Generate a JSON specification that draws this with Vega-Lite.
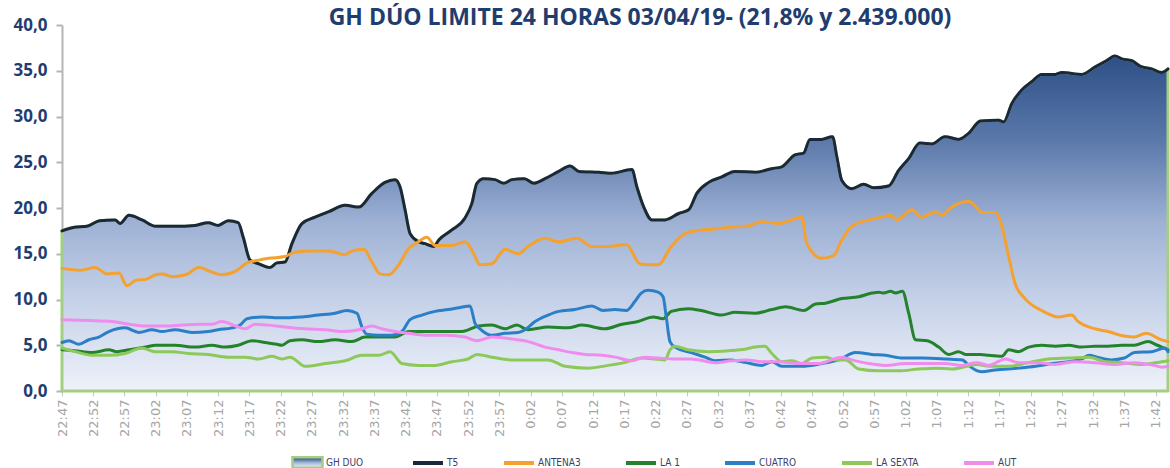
{
"$schema": "https://vega.github.io/schema/vega-lite/v6.json",
"width": 1106, "height": 366,
"autosize": {"type": "none"},
"padding": {"left": 62, "top": 25, "right": 2, "bottom": 77},
"background": "white",
"config": {"view": {"stroke": null}},
"title": {"text": "GH DÚO LIMITE 24 HORAS 03/04/19-  (21,8% y 2.439.000)", "font": "Open Sans", "fontSize": 23, "fontWeight": "bold", "color": "#1f3d6e", "anchor": "middle", "frame": "group", "dx": 25, "baseline": "alphabetic", "offset": -32},
"data": {"values": [
{"c":"T5","m":0,"v":17.5},{"c":"T5","m":2,"v":17.9},{"c":"T5","m":4,"v":18.0},{"c":"T5","m":6,"v":18.6},{"c":"T5","m":8.5,"v":18.7},{"c":"T5","m":9.3,"v":18.3},{"c":"T5","m":10.7,"v":19.2},{"c":"T5","m":12.8,"v":18.7},{"c":"T5","m":15,"v":18.0},{"c":"T5","m":18,"v":18.0},{"c":"T5","m":21.3,"v":18.1},{"c":"T5","m":23.4,"v":18.4},{"c":"T5","m":25,"v":18.1},{"c":"T5","m":26.6,"v":18.6},{"c":"T5","m":28.2,"v":18.4},{"c":"T5","m":29,"v":16.8},{"c":"T5","m":30.1,"v":14.3},{"c":"T5","m":31.5,"v":13.9},{"c":"T5","m":33.3,"v":13.5},{"c":"T5","m":34.4,"v":14.0},{"c":"T5","m":35.7,"v":14.1},{"c":"T5","m":36.8,"v":16.1},{"c":"T5","m":38.4,"v":18.3},{"c":"T5","m":40.5,"v":19.0},{"c":"T5","m":42.7,"v":19.6},{"c":"T5","m":45.3,"v":20.3},{"c":"T5","m":47.5,"v":20.1},{"c":"T5","m":49.6,"v":21.6},{"c":"T5","m":51.7,"v":22.8},{"c":"T5","m":53.3,"v":23.1},{"c":"T5","m":54.1,"v":22.3},{"c":"T5","m":54.9,"v":19.8},{"c":"T5","m":55.7,"v":17.2},{"c":"T5","m":57.1,"v":16.3},{"c":"T5","m":58.1,"v":16.1},{"c":"T5","m":59.5,"v":15.8},{"c":"T5","m":60.3,"v":16.5},{"c":"T5","m":62.4,"v":17.6},{"c":"T5","m":64.5,"v":18.9},{"c":"T5","m":65.6,"v":20.5},{"c":"T5","m":66.4,"v":22.7},{"c":"T5","m":67.5,"v":23.2},{"c":"T5","m":69.3,"v":23.1},{"c":"T5","m":70.7,"v":22.7},{"c":"T5","m":72,"v":23.1},{"c":"T5","m":74,"v":23.2},{"c":"T5","m":75.5,"v":22.7},{"c":"T5","m":77.3,"v":23.2},{"c":"T5","m":79.5,"v":24.0},{"c":"T5","m":81.3,"v":24.6},{"c":"T5","m":82.7,"v":24.0},{"c":"T5","m":85.9,"v":23.9},{"c":"T5","m":88,"v":23.8},{"c":"T5","m":91.2,"v":24.2},{"c":"T5","m":92,"v":22.3},{"c":"T5","m":93.1,"v":20.1},{"c":"T5","m":94.4,"v":18.7},{"c":"T5","m":96.5,"v":18.7},{"c":"T5","m":98.7,"v":19.4},{"c":"T5","m":100.3,"v":19.8},{"c":"T5","m":101.6,"v":21.6},{"c":"T5","m":103.5,"v":22.8},{"c":"T5","m":105.6,"v":23.4},{"c":"T5","m":107.7,"v":24.0},{"c":"T5","m":110.9,"v":23.9},{"c":"T5","m":113.6,"v":24.3},{"c":"T5","m":115.2,"v":24.5},{"c":"T5","m":117.3,"v":25.8},{"c":"T5","m":118.7,"v":26.0},{"c":"T5","m":119.7,"v":27.5},{"c":"T5","m":121.6,"v":27.5},{"c":"T5","m":123.3,"v":27.8},{"c":"T5","m":124,"v":25.6},{"c":"T5","m":124.8,"v":23.0},{"c":"T5","m":126.4,"v":22.1},{"c":"T5","m":128.3,"v":22.6},{"c":"T5","m":129.9,"v":22.2},{"c":"T5","m":132.3,"v":22.4},{"c":"T5","m":133.9,"v":24.1},{"c":"T5","m":135.5,"v":25.4},{"c":"T5","m":137.3,"v":27.1},{"c":"T5","m":139.2,"v":27.0},{"c":"T5","m":141.3,"v":27.8},{"c":"T5","m":143.5,"v":27.5},{"c":"T5","m":145,"v":28.1},{"c":"T5","m":147,"v":29.5},{"c":"T5","m":149.9,"v":29.6},{"c":"T5","m":150.7,"v":29.4},{"c":"T5","m":152,"v":31.4},{"c":"T5","m":153.6,"v":32.9},{"c":"T5","m":155.2,"v":33.8},{"c":"T5","m":156.8,"v":34.6},{"c":"T5","m":159,"v":34.6},{"c":"T5","m":160,"v":34.8},{"c":"T5","m":163.2,"v":34.6},{"c":"T5","m":165.3,"v":35.4},{"c":"T5","m":167.2,"v":36.1},{"c":"T5","m":168.5,"v":36.6},{"c":"T5","m":169.6,"v":36.3},{"c":"T5","m":171.2,"v":36.1},{"c":"T5","m":172.5,"v":35.5},{"c":"T5","m":174.4,"v":35.2},{"c":"T5","m":176,"v":34.8},{"c":"T5","m":177,"v":35.2},
{"c":"ANTENA3","m":0,"v":13.4},{"c":"ANTENA3","m":3,"v":13.2},{"c":"ANTENA3","m":5.3,"v":13.5},{"c":"ANTENA3","m":7.2,"v":12.8},{"c":"ANTENA3","m":9.1,"v":12.9},{"c":"ANTENA3","m":10.4,"v":11.5},{"c":"ANTENA3","m":11.8,"v":12.1},{"c":"ANTENA3","m":13.4,"v":12.2},{"c":"ANTENA3","m":15,"v":12.7},{"c":"ANTENA3","m":16,"v":12.8},{"c":"ANTENA3","m":17.6,"v":12.5},{"c":"ANTENA3","m":19.8,"v":12.7},{"c":"ANTENA3","m":21.9,"v":13.5},{"c":"ANTENA3","m":24,"v":13.0},{"c":"ANTENA3","m":25.6,"v":12.7},{"c":"ANTENA3","m":27.8,"v":13.1},{"c":"ANTENA3","m":29.6,"v":14.0},{"c":"ANTENA3","m":31.5,"v":14.3},{"c":"ANTENA3","m":33.1,"v":14.5},{"c":"ANTENA3","m":35.7,"v":14.7},{"c":"ANTENA3","m":37.3,"v":15.2},{"c":"ANTENA3","m":40,"v":15.3},{"c":"ANTENA3","m":42.7,"v":15.3},{"c":"ANTENA3","m":45.3,"v":14.9},{"c":"ANTENA3","m":46.4,"v":15.3},{"c":"ANTENA3","m":48.3,"v":15.5},{"c":"ANTENA3","m":49.6,"v":14.1},{"c":"ANTENA3","m":50.9,"v":12.8},{"c":"ANTENA3","m":52.3,"v":12.7},{"c":"ANTENA3","m":53.9,"v":13.8},{"c":"ANTENA3","m":55.5,"v":15.6},{"c":"ANTENA3","m":56.8,"v":16.2},{"c":"ANTENA3","m":58.4,"v":16.8},{"c":"ANTENA3","m":59.7,"v":15.9},{"c":"ANTENA3","m":62.4,"v":15.9},{"c":"ANTENA3","m":64.5,"v":16.3},{"c":"ANTENA3","m":65.6,"v":15.4},{"c":"ANTENA3","m":66.9,"v":13.8},{"c":"ANTENA3","m":68.8,"v":13.9},{"c":"ANTENA3","m":70.9,"v":15.5},{"c":"ANTENA3","m":73,"v":15.0},{"c":"ANTENA3","m":74.6,"v":15.8},{"c":"ANTENA3","m":77.3,"v":16.7},{"c":"ANTENA3","m":79.5,"v":16.3},{"c":"ANTENA3","m":82.4,"v":16.7},{"c":"ANTENA3","m":84.8,"v":15.8},{"c":"ANTENA3","m":87.4,"v":15.8},{"c":"ANTENA3","m":90.3,"v":16.0},{"c":"ANTENA3","m":92.5,"v":13.9},{"c":"ANTENA3","m":93.8,"v":13.8},{"c":"ANTENA3","m":95.4,"v":13.8},{"c":"ANTENA3","m":97.5,"v":15.8},{"c":"ANTENA3","m":99.7,"v":17.2},{"c":"ANTENA3","m":102.3,"v":17.6},{"c":"ANTENA3","m":104.5,"v":17.7},{"c":"ANTENA3","m":106.6,"v":17.9},{"c":"ANTENA3","m":109.5,"v":18.0},{"c":"ANTENA3","m":112,"v":18.5},{"c":"ANTENA3","m":114.7,"v":18.3},{"c":"ANTENA3","m":118.4,"v":19.0},{"c":"ANTENA3","m":119.2,"v":16.1},{"c":"ANTENA3","m":121.6,"v":14.5},{"c":"ANTENA3","m":123.5,"v":14.8},{"c":"ANTENA3","m":124.8,"v":16.5},{"c":"ANTENA3","m":126.4,"v":18.0},{"c":"ANTENA3","m":129.1,"v":18.7},{"c":"ANTENA3","m":131.2,"v":19.0},{"c":"ANTENA3","m":132.6,"v":19.2},{"c":"ANTENA3","m":133.6,"v":18.7},{"c":"ANTENA3","m":136,"v":19.8},{"c":"ANTENA3","m":137.6,"v":19.0},{"c":"ANTENA3","m":139.8,"v":19.6},{"c":"ANTENA3","m":140.8,"v":19.2},{"c":"ANTENA3","m":142.4,"v":20.1},{"c":"ANTENA3","m":145.1,"v":20.7},{"c":"ANTENA3","m":146.3,"v":20.1},{"c":"ANTENA3","m":147.2,"v":19.5},{"c":"ANTENA3","m":149.3,"v":19.5},{"c":"ANTENA3","m":150.1,"v":18.7},{"c":"ANTENA3","m":151.5,"v":14.7},{"c":"ANTENA3","m":152.5,"v":11.8},{"c":"ANTENA3","m":154.1,"v":10.1},{"c":"ANTENA3","m":156.8,"v":8.8},{"c":"ANTENA3","m":159.4,"v":8.1},{"c":"ANTENA3","m":161.6,"v":8.3},{"c":"ANTENA3","m":162.6,"v":7.6},{"c":"ANTENA3","m":165.3,"v":6.8},{"c":"ANTENA3","m":167.4,"v":6.5},{"c":"ANTENA3","m":170,"v":6.0},{"c":"ANTENA3","m":171.6,"v":5.9},{"c":"ANTENA3","m":173.5,"v":6.3},{"c":"ANTENA3","m":175.9,"v":5.6},{"c":"ANTENA3","m":177,"v":5.4},
{"c":"LA 1","m":0,"v":4.5},{"c":"LA 1","m":2,"v":4.4},{"c":"LA 1","m":4.8,"v":4.2},{"c":"LA 1","m":7.5,"v":4.5},{"c":"LA 1","m":8.8,"v":4.3},{"c":"LA 1","m":10.7,"v":4.5},{"c":"LA 1","m":13.4,"v":4.8},{"c":"LA 1","m":15,"v":5.0},{"c":"LA 1","m":18,"v":5.0},{"c":"LA 1","m":21.3,"v":4.8},{"c":"LA 1","m":24,"v":5.0},{"c":"LA 1","m":26.1,"v":4.8},{"c":"LA 1","m":28.2,"v":5.0},{"c":"LA 1","m":30.4,"v":5.5},{"c":"LA 1","m":32.5,"v":5.3},{"c":"LA 1","m":34.4,"v":5.1},{"c":"LA 1","m":35.2,"v":5.0},{"c":"LA 1","m":36.5,"v":5.5},{"c":"LA 1","m":38.4,"v":5.6},{"c":"LA 1","m":41,"v":5.4},{"c":"LA 1","m":43.7,"v":5.6},{"c":"LA 1","m":46.4,"v":5.4},{"c":"LA 1","m":48.5,"v":5.9},{"c":"LA 1","m":51.7,"v":5.9},{"c":"LA 1","m":53.3,"v":5.9},{"c":"LA 1","m":55.5,"v":6.5},{"c":"LA 1","m":58.1,"v":6.5},{"c":"LA 1","m":61.3,"v":6.5},{"c":"LA 1","m":64,"v":6.5},{"c":"LA 1","m":66.7,"v":7.1},{"c":"LA 1","m":68.8,"v":7.2},{"c":"LA 1","m":70.9,"v":6.8},{"c":"LA 1","m":72.8,"v":7.2},{"c":"LA 1","m":74.6,"v":6.7},{"c":"LA 1","m":77.8,"v":7.0},{"c":"LA 1","m":81,"v":6.9},{"c":"LA 1","m":83.2,"v":7.2},{"c":"LA 1","m":86.9,"v":6.8},{"c":"LA 1","m":89.6,"v":7.3},{"c":"LA 1","m":92.2,"v":7.6},{"c":"LA 1","m":94.6,"v":8.1},{"c":"LA 1","m":96.2,"v":7.9},{"c":"LA 1","m":97.5,"v":8.7},{"c":"LA 1","m":100.2,"v":9.0},{"c":"LA 1","m":102.3,"v":8.8},{"c":"LA 1","m":105.6,"v":8.3},{"c":"LA 1","m":107.7,"v":8.6},{"c":"LA 1","m":110.9,"v":8.5},{"c":"LA 1","m":113.6,"v":8.9},{"c":"LA 1","m":115.8,"v":9.2},{"c":"LA 1","m":118.7,"v":8.8},{"c":"LA 1","m":120.6,"v":9.5},{"c":"LA 1","m":122.2,"v":9.6},{"c":"LA 1","m":124.8,"v":10.1},{"c":"LA 1","m":127.5,"v":10.3},{"c":"LA 1","m":129.6,"v":10.7},{"c":"LA 1","m":130.7,"v":10.8},{"c":"LA 1","m":131.5,"v":10.7},{"c":"LA 1","m":132.6,"v":10.9},{"c":"LA 1","m":133.4,"v":10.7},{"c":"LA 1","m":134.5,"v":10.9},{"c":"LA 1","m":135.5,"v":8.5},{"c":"LA 1","m":136.6,"v":5.6},{"c":"LA 1","m":138.5,"v":5.5},{"c":"LA 1","m":140.3,"v":4.8},{"c":"LA 1","m":141.9,"v":4.0},{"c":"LA 1","m":143.5,"v":4.3},{"c":"LA 1","m":144.6,"v":4.0},{"c":"LA 1","m":147,"v":4.0},{"c":"LA 1","m":148.3,"v":3.9},{"c":"LA 1","m":150.4,"v":3.8},{"c":"LA 1","m":151.5,"v":4.5},{"c":"LA 1","m":153.1,"v":4.3},{"c":"LA 1","m":154.7,"v":4.8},{"c":"LA 1","m":156.8,"v":5.0},{"c":"LA 1","m":159,"v":4.9},{"c":"LA 1","m":161.1,"v":5.0},{"c":"LA 1","m":163.2,"v":4.8},{"c":"LA 1","m":165.3,"v":4.9},{"c":"LA 1","m":167.4,"v":4.9},{"c":"LA 1","m":169.6,"v":5.0},{"c":"LA 1","m":171.6,"v":5.0},{"c":"LA 1","m":173.8,"v":5.4},{"c":"LA 1","m":175.3,"v":5.0},{"c":"LA 1","m":177,"v":4.5},
{"c":"CUATRO","m":0,"v":5.3},{"c":"CUATRO","m":1.1,"v":5.5},{"c":"CUATRO","m":2.7,"v":5.1},{"c":"CUATRO","m":4.3,"v":5.6},{"c":"CUATRO","m":5.9,"v":5.9},{"c":"CUATRO","m":7.5,"v":6.5},{"c":"CUATRO","m":10.1,"v":6.9},{"c":"CUATRO","m":12.3,"v":6.4},{"c":"CUATRO","m":14.4,"v":6.7},{"c":"CUATRO","m":16,"v":6.5},{"c":"CUATRO","m":18.1,"v":6.7},{"c":"CUATRO","m":20.8,"v":6.4},{"c":"CUATRO","m":23.4,"v":6.5},{"c":"CUATRO","m":25,"v":6.7},{"c":"CUATRO","m":27.2,"v":6.9},{"c":"CUATRO","m":28.5,"v":7.2},{"c":"CUATRO","m":29.6,"v":7.9},{"c":"CUATRO","m":32,"v":8.1},{"c":"CUATRO","m":34.1,"v":8.0},{"c":"CUATRO","m":36,"v":8.0},{"c":"CUATRO","m":38.4,"v":8.1},{"c":"CUATRO","m":41,"v":8.3},{"c":"CUATRO","m":43.7,"v":8.5},{"c":"CUATRO","m":45.6,"v":8.8},{"c":"CUATRO","m":47.2,"v":8.5},{"c":"CUATRO","m":48,"v":7.0},{"c":"CUATRO","m":48.8,"v":6.2},{"c":"CUATRO","m":50.7,"v":6.1},{"c":"CUATRO","m":52.8,"v":6.1},{"c":"CUATRO","m":54.4,"v":6.5},{"c":"CUATRO","m":55.7,"v":7.8},{"c":"CUATRO","m":57.6,"v":8.3},{"c":"CUATRO","m":59.7,"v":8.7},{"c":"CUATRO","m":61.8,"v":8.9},{"c":"CUATRO","m":63.5,"v":9.1},{"c":"CUATRO","m":65.3,"v":9.3},{"c":"CUATRO","m":66.1,"v":7.4},{"c":"CUATRO","m":66.9,"v":6.8},{"c":"CUATRO","m":68.8,"v":6.1},{"c":"CUATRO","m":70.9,"v":6.3},{"c":"CUATRO","m":73,"v":6.4},{"c":"CUATRO","m":74.1,"v":6.7},{"c":"CUATRO","m":75.7,"v":7.6},{"c":"CUATRO","m":77.8,"v":8.3},{"c":"CUATRO","m":79.5,"v":8.7},{"c":"CUATRO","m":82.1,"v":8.9},{"c":"CUATRO","m":84.8,"v":9.3},{"c":"CUATRO","m":86.6,"v":8.8},{"c":"CUATRO","m":88.5,"v":8.9},{"c":"CUATRO","m":90.3,"v":8.8},{"c":"CUATRO","m":91.7,"v":9.8},{"c":"CUATRO","m":92.7,"v":10.7},{"c":"CUATRO","m":93.8,"v":11.0},{"c":"CUATRO","m":95.4,"v":10.8},{"c":"CUATRO","m":96.2,"v":10.3},{"c":"CUATRO","m":96.7,"v":8.1},{"c":"CUATRO","m":97.3,"v":5.4},{"c":"CUATRO","m":98.1,"v":4.8},{"c":"CUATRO","m":100.7,"v":4.2},{"c":"CUATRO","m":102.9,"v":3.7},{"c":"CUATRO","m":104.5,"v":3.3},{"c":"CUATRO","m":107.1,"v":3.4},{"c":"CUATRO","m":109.5,"v":3.1},{"c":"CUATRO","m":112,"v":2.8},{"c":"CUATRO","m":113.6,"v":3.2},{"c":"CUATRO","m":115.2,"v":2.7},{"c":"CUATRO","m":118.4,"v":2.7},{"c":"CUATRO","m":121.6,"v":3.0},{"c":"CUATRO","m":124.3,"v":3.4},{"c":"CUATRO","m":127,"v":4.2},{"c":"CUATRO","m":129.6,"v":4.0},{"c":"CUATRO","m":131.8,"v":3.9},{"c":"CUATRO","m":134.5,"v":3.6},{"c":"CUATRO","m":137.7,"v":3.6},{"c":"CUATRO","m":141.5,"v":3.5},{"c":"CUATRO","m":144.1,"v":3.4},{"c":"CUATRO","m":145.1,"v":2.8},{"c":"CUATRO","m":146.5,"v":2.2},{"c":"CUATRO","m":147.2,"v":2.1},{"c":"CUATRO","m":149.3,"v":2.3},{"c":"CUATRO","m":153.1,"v":2.5},{"c":"CUATRO","m":155.8,"v":2.7},{"c":"CUATRO","m":158.4,"v":3.0},{"c":"CUATRO","m":161.1,"v":3.2},{"c":"CUATRO","m":163.2,"v":3.5},{"c":"CUATRO","m":164.4,"v":3.9},{"c":"CUATRO","m":165.7,"v":3.7},{"c":"CUATRO","m":167.9,"v":3.4},{"c":"CUATRO","m":170,"v":3.6},{"c":"CUATRO","m":171.6,"v":4.2},{"c":"CUATRO","m":174.4,"v":4.3},{"c":"CUATRO","m":176.5,"v":4.7},{"c":"CUATRO","m":177,"v":4.3},
{"c":"LA SEXTA","m":0,"v":4.7},{"c":"LA SEXTA","m":2.1,"v":4.3},{"c":"LA SEXTA","m":4.8,"v":3.9},{"c":"LA SEXTA","m":7.5,"v":3.9},{"c":"LA SEXTA","m":10.1,"v":4.1},{"c":"LA SEXTA","m":12.8,"v":4.7},{"c":"LA SEXTA","m":14.9,"v":4.3},{"c":"LA SEXTA","m":17.6,"v":4.3},{"c":"LA SEXTA","m":20.2,"v":4.1},{"c":"LA SEXTA","m":23.4,"v":4.0},{"c":"LA SEXTA","m":26.6,"v":3.7},{"c":"LA SEXTA","m":29.3,"v":3.7},{"c":"LA SEXTA","m":31.5,"v":3.5},{"c":"LA SEXTA","m":33.6,"v":3.8},{"c":"LA SEXTA","m":35.2,"v":3.5},{"c":"LA SEXTA","m":36.5,"v":3.7},{"c":"LA SEXTA","m":38.9,"v":2.7},{"c":"LA SEXTA","m":42.1,"v":3.0},{"c":"LA SEXTA","m":45.3,"v":3.3},{"c":"LA SEXTA","m":48,"v":3.9},{"c":"LA SEXTA","m":50.7,"v":3.9},{"c":"LA SEXTA","m":52.5,"v":4.3},{"c":"LA SEXTA","m":54.4,"v":3.0},{"c":"LA SEXTA","m":57.1,"v":2.8},{"c":"LA SEXTA","m":59.7,"v":2.8},{"c":"LA SEXTA","m":62.4,"v":3.2},{"c":"LA SEXTA","m":65,"v":3.5},{"c":"LA SEXTA","m":66.4,"v":4.0},{"c":"LA SEXTA","m":68.8,"v":3.7},{"c":"LA SEXTA","m":72,"v":3.4},{"c":"LA SEXTA","m":77.8,"v":3.4},{"c":"LA SEXTA","m":80.5,"v":2.7},{"c":"LA SEXTA","m":84.2,"v":2.5},{"c":"LA SEXTA","m":87.4,"v":2.8},{"c":"LA SEXTA","m":90,"v":3.1},{"c":"LA SEXTA","m":92.7,"v":3.6},{"c":"LA SEXTA","m":94.9,"v":3.5},{"c":"LA SEXTA","m":96.5,"v":3.4},{"c":"LA SEXTA","m":97.3,"v":4.5},{"c":"LA SEXTA","m":98.1,"v":4.9},{"c":"LA SEXTA","m":100.2,"v":4.5},{"c":"LA SEXTA","m":103.5,"v":4.3},{"c":"LA SEXTA","m":106.6,"v":4.4},{"c":"LA SEXTA","m":109.5,"v":4.6},{"c":"LA SEXTA","m":110.9,"v":4.8},{"c":"LA SEXTA","m":112.5,"v":4.9},{"c":"LA SEXTA","m":113.6,"v":4.1},{"c":"LA SEXTA","m":115.2,"v":3.2},{"c":"LA SEXTA","m":116.8,"v":3.3},{"c":"LA SEXTA","m":118.4,"v":3.0},{"c":"LA SEXTA","m":120,"v":3.6},{"c":"LA SEXTA","m":122.2,"v":3.7},{"c":"LA SEXTA","m":123.8,"v":3.4},{"c":"LA SEXTA","m":125.4,"v":3.4},{"c":"LA SEXTA","m":127.5,"v":2.4},{"c":"LA SEXTA","m":130.7,"v":2.2},{"c":"LA SEXTA","m":133.9,"v":2.2},{"c":"LA SEXTA","m":137.1,"v":2.4},{"c":"LA SEXTA","m":139.8,"v":2.5},{"c":"LA SEXTA","m":142.4,"v":2.4},{"c":"LA SEXTA","m":146.5,"v":2.9},{"c":"LA SEXTA","m":148.3,"v":2.7},{"c":"LA SEXTA","m":151.5,"v":2.7},{"c":"LA SEXTA","m":154.7,"v":3.1},{"c":"LA SEXTA","m":157.9,"v":3.5},{"c":"LA SEXTA","m":161.1,"v":3.6},{"c":"LA SEXTA","m":164.3,"v":3.7},{"c":"LA SEXTA","m":167,"v":3.2},{"c":"LA SEXTA","m":169.6,"v":3.1},{"c":"LA SEXTA","m":172.8,"v":2.9},{"c":"LA SEXTA","m":176,"v":3.2},{"c":"LA SEXTA","m":177,"v":3.3},
{"c":"AUT","m":0,"v":7.8},{"c":"AUT","m":4.3,"v":7.7},{"c":"AUT","m":8,"v":7.6},{"c":"AUT","m":10.7,"v":7.3},{"c":"AUT","m":13.4,"v":7.1},{"c":"AUT","m":16.5,"v":7.1},{"c":"AUT","m":19.2,"v":7.2},{"c":"AUT","m":21.9,"v":7.3},{"c":"AUT","m":24,"v":7.3},{"c":"AUT","m":25.6,"v":7.6},{"c":"AUT","m":27.8,"v":7.1},{"c":"AUT","m":29.3,"v":6.8},{"c":"AUT","m":30.9,"v":7.3},{"c":"AUT","m":33.1,"v":7.2},{"c":"AUT","m":35.7,"v":7.0},{"c":"AUT","m":38.9,"v":6.8},{"c":"AUT","m":42.1,"v":6.7},{"c":"AUT","m":44.8,"v":6.5},{"c":"AUT","m":47.5,"v":6.7},{"c":"AUT","m":49.6,"v":7.1},{"c":"AUT","m":51.2,"v":6.8},{"c":"AUT","m":53.3,"v":6.5},{"c":"AUT","m":55.5,"v":6.3},{"c":"AUT","m":58.1,"v":6.1},{"c":"AUT","m":61.3,"v":6.1},{"c":"AUT","m":64.5,"v":5.9},{"c":"AUT","m":66.4,"v":5.5},{"c":"AUT","m":68.8,"v":5.9},{"c":"AUT","m":72.8,"v":5.6},{"c":"AUT","m":74.6,"v":5.4},{"c":"AUT","m":77.3,"v":4.8},{"c":"AUT","m":79.5,"v":4.5},{"c":"AUT","m":81.6,"v":4.2},{"c":"AUT","m":83.7,"v":4.0},{"c":"AUT","m":86.4,"v":3.9},{"c":"AUT","m":88.5,"v":3.7},{"c":"AUT","m":91.2,"v":3.3},{"c":"AUT","m":93.3,"v":3.7},{"c":"AUT","m":95.4,"v":3.6},{"c":"AUT","m":98.1,"v":3.5},{"c":"AUT","m":100.7,"v":3.5},{"c":"AUT","m":104.5,"v":3.1},{"c":"AUT","m":107.1,"v":3.3},{"c":"AUT","m":109.5,"v":3.4},{"c":"AUT","m":112,"v":3.2},{"c":"AUT","m":114.7,"v":3.2},{"c":"AUT","m":117.9,"v":3.0},{"c":"AUT","m":121.1,"v":3.0},{"c":"AUT","m":124.8,"v":3.7},{"c":"AUT","m":126.4,"v":3.4},{"c":"AUT","m":129.1,"v":3.0},{"c":"AUT","m":131.8,"v":2.8},{"c":"AUT","m":135,"v":3.0},{"c":"AUT","m":141.3,"v":3.0},{"c":"AUT","m":144,"v":2.8},{"c":"AUT","m":146.4,"v":3.1},{"c":"AUT","m":148.3,"v":2.8},{"c":"AUT","m":151,"v":3.5},{"c":"AUT","m":153.1,"v":3.1},{"c":"AUT","m":156.3,"v":3.1},{"c":"AUT","m":158.9,"v":2.9},{"c":"AUT","m":162.1,"v":3.2},{"c":"AUT","m":165.3,"v":3.1},{"c":"AUT","m":168.5,"v":2.9},{"c":"AUT","m":171.6,"v":3.1},{"c":"AUT","m":174.8,"v":2.8},{"c":"AUT","m":176,"v":2.6},{"c":"AUT","m":177,"v":2.7}
]},
"encoding": {
  "x": {"field": "m", "type": "quantitative", "scale": {"domain": [0, 177], "nice": false, "zero": false},
    "axis": {"title": null, "grid": false, "values": [0,5,10,15,20,25,30,35,40,45,50,55,60,65,70,75,80,85,90,95,100,105,110,115,120,125,130,135,140,145,150,155,160,165,170,175],
      "labelExpr": "timeFormat(datetime(2019,3,3,22,47+datum.value),'%-H:%M')",
      "labelAngle": -90, "labelFont": "DejaVu Sans", "labelFontSize": 13, "labelColor": "#a6a6a6", "labelPadding": 3,
      "tickColor": "#c8c8c8", "tickSize": 5, "domainColor": "#c8c8c8", "labelOverlap": false, "labelBound": false, "labelFlush": false}},
  "y": {"field": "v", "type": "quantitative", "scale": {"domain": [0, 40], "nice": false},
    "axis": {"title": null, "grid": false, "values": [0,5,10,15,20,25,30,35,40],
      "labelExpr": "replace(format(datum.value,'.1f'),'.',',')",
      "labelFont": "Open Sans", "labelFontSize": 17, "labelFontWeight": "bold", "labelColor": "#1f3d6e", "labelPadding": 9,
      "tickColor": "#b5b5b5", "tickSize": 6, "tickWidth": 2, "domainColor": "#b5b5b5", "domainWidth": 2}}
},
"layer": [
  {"transform": [{"filter": "datum.c === 'T5'"}],
   "mark": {"type": "area", "interpolate": "monotone", "strokeWidth": 3, "strokeJoin": "round",
     "fill": {"gradient": "linear", "x1": 0, "y1": 0, "x2": 0, "y2": 1, "stops": [{"offset": 0, "color": "#2e4f86"}, {"offset": 0.25, "color": "#5a78aa"}, {"offset": 0.5, "color": "#9fb2d5"}, {"offset": 0.75, "color": "#c9d4ea"}, {"offset": 1, "color": "#eef2f9"}]}},
   "encoding": {"stroke": {"datum": "GH DUO", "scale": {"domain": ["GH DUO"], "range": ["#a3cf82"]},
     "legend": {"orient": "none", "legendX": 229, "legendY": 421, "direction": "horizontal", "title": null,
       "symbolType": "M-1,-0.35H1V0.35H-1Z", "symbolSize": 900, "symbolStrokeWidth": 2.5, "symbolFillColor": "#d3e0f1",
       "labelFont": "DejaVu Sans Condensed", "labelFontSize": 10, "labelColor": "#3c3f66", "labelOffset": 2,
       "encode": {"symbols": {"update": {"fill": {"value": "#d3e0f1"}, "fillOpacity": {"value": 1}}}}}}}},
  {"mark": {"type": "line", "interpolate": "monotone", "strokeWidth": 3, "strokeJoin": "round", "strokeCap": "round"},
   "encoding": {"color": {"field": "c", "type": "nominal",
     "scale": {"domain": ["T5", "ANTENA3", "LA 1", "CUATRO", "LA SEXTA", "AUT"], "range": ["#1b273a", "#f4a12f", "#23822b", "#2a7fc7", "#8dc95a", "#f08cee"]},
     "legend": {"orient": "none", "legendX": 349, "legendY": 421, "direction": "horizontal", "title": null,
       "symbolType": "stroke", "symbolSize": 900, "symbolStrokeWidth": 4, "columnPadding": 37,
       "labelFont": "DejaVu Sans Condensed", "labelFontSize": 10, "labelColor": "#3c3f66", "labelOffset": 2}}}}
]
}
